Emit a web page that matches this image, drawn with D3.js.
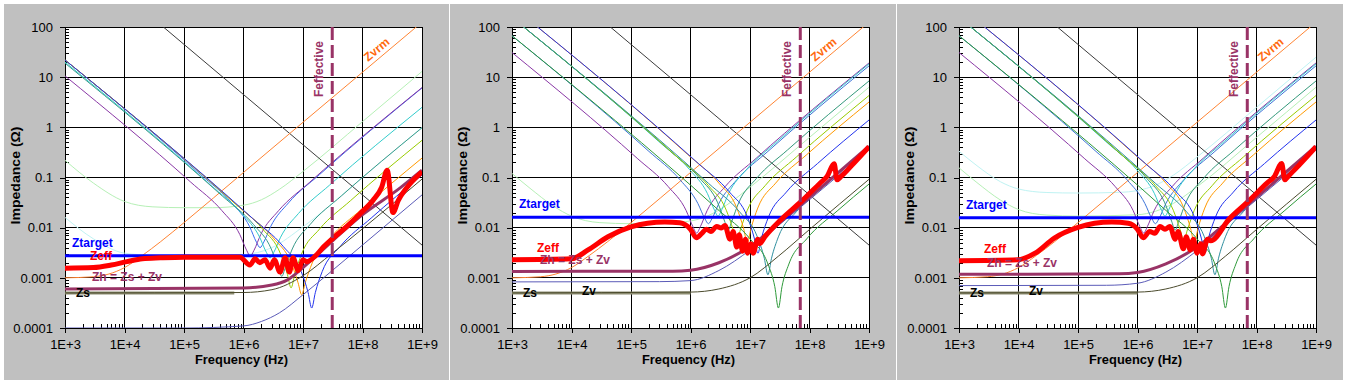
<!DOCTYPE html>
<html>
<head>
<meta charset="utf-8">
<title>Impedance vs frequency</title>
<script src="https://cdn.jsdelivr.net/npm/d3@7"></script>
<style>
  body { margin: 0; background: #ffffff; }
  text { font-family: Arial, "Liberation Sans", sans-serif; }
</style>
</head>
<body>
<svg id="chart" width="1347" height="384"></svg>
<script>
// axis ticks
var freqTicks = [1e3, 1e4, 1e5, 1e6, 1e7, 1e8, 1e9];
var freqLabels = ["1E+3", "1E+4", "1E+5", "1E+6", "1E+7", "1E+8", "1E+9"];
var zTicks = [100, 10, 1, 0.1, 0.01, 0.001, 0.0001];
var zLabels = ["100", "10", "1", "0.1", "0.01", "0.001", "0.0001"];

// per panel scalars
var zTarget = [0.00275, 0.0162, 0.0157];
var fEffective = [3.1e7, 7e7, 7e7];

// curves common to all three panels  [Hz, ohm]
var capLine = [[4.5e4, 100], [1e9, 0.0045]];
var zvrm = [[1e3, 0.001], [3e3, 0.00105], [1e4, 0.0016], [2e4, 0.0028], [4e4, 0.0052], [1e5, 0.0126], [1e6, 0.126], [1e7, 1.26], [1e9, 125]];

// panel 1
var p1LightGreen = [[1e3, 0.22], [3e3, 0.0775], [1e4, 0.0333], [3e4, 0.026], [1e5, 0.025], [3e5, 0.025], [1e6, 0.028], [2e6, 0.036], [4e6, 0.058], [1e7, 0.132], [1e8, 1.3], [1e9, 13]];
var p1PaleCyan = [[1e3, 0.016], [3e3, 0.006], [1e4, 0.0031], [3e4, 0.0028], [1e5, 0.0027], [1e6, 0.0029], [3e6, 0.004], [1e7, 0.0104], [1e8, 0.1], [1e9, 1.0]];
var p1Purple = [[1e3, 10.6], [1.3e5, 0.0807], [4.33e5, 0.0219], [8.67e5, 0.00731], [1.13e6, 0.00353], [1.3e6, 0.0027], [1.5e6, 0.00353], [1.95e6, 0.00731], [3.9e6, 0.0219], [1.3e7, 0.0807], [1e9, 6.2]];
var p1Blue = [[1e3, 22], [1.9e5, 0.1146], [6.33e5, 0.0312], [1.27e6, 0.01045], [1.65e6, 0.00515], [1.9e6, 0.004], [2.19e6, 0.00515], [2.85e6, 0.01045], [5.7e6, 0.0312], [1.9e7, 0.1146], [1e9, 6.1]];
var p1Cyan = [[1e3, 20], [2.8e5, 0.0707], [9.33e5, 0.0192], [1.87e6, 0.00645], [2.43e6, 0.0032], [2.8e6, 0.0025], [3.22e6, 0.0032], [4.2e6, 0.00645], [8.4e6, 0.0192], [2.8e7, 0.0707], [1e9, 2.5]];
var p1Teal = [[1e3, 19], [4.4e5, 0.0428], [1.47e6, 0.0116], [2.93e6, 0.00376], [3.83e6, 0.00162], [4.4e6, 0.00107], [5.06e6, 0.00162], [6.6e6, 0.00376], [1.32e7, 0.0116], [4.4e7, 0.0428], [1e9, 0.98]];
var p1YGreen = [[1e3, 22], [6.3e5, 0.0346], [2.1e6, 0.00933], [4.2e6, 0.00298], [5.48e6, 0.00116], [6.3e6, 0.00063], [7.25e6, 0.00116], [9.45e6, 0.00298], [1.89e7, 0.00933], [6.3e7, 0.0346], [1e9, 0.55]];
var p1Orange = [[1e3, 22], [9.5e5, 0.0229], [3.17e6, 0.0062], [6.33e6, 0.00198], [8.26e6, 0.0008], [9.5e6, 0.00046], [1.09e7, 0.0008], [1.43e7, 0.00198], [2.85e7, 0.0062], [9.5e7, 0.0229], [1e9, 0.244]];
var p1Blue2 = [[1e3, 22], [1.4e6, 0.01554], [4.67e6, 0.0042], [9.33e6, 0.00133], [1.22e7, 0.000506], [1.4e7, 0.00025], [1.61e7, 0.000506], [2.1e7, 0.00133], [4.2e7, 0.0042], [1.4e8, 0.01554], [1e9, 0.112]];
var p1Slate = [[1e3, 0.0001], [1e5, 0.0001], [1e6, 0.00011], [2e6, 0.000135], [4e6, 0.0002], [1e7, 0.00046], [3e7, 0.00135], [1e8, 0.0045], [1e9, 0.045]];
var p1ZsFlat = [[1e3, 0.0005], [7e5, 0.0005]];
var p1Zs = [[1e3, 0.0005], [1e6, 0.00051], [3e6, 0.00058], [1e7, 0.0011], [3e7, 0.003], [1e8, 0.0095], [1e9, 0.093]];
var p1Zh = [[1e3, 0.0006], [1e6, 0.00063], [3e6, 0.00072], [5.4e6, 0.0009], [1e7, 0.0016], [1.3e7, 0.0021], [3.2e7, 0.0056], [9e7, 0.0165], [4.3e8, 0.062], [1e9, 0.14]];
var p1Zeff = [[1e3, 0.00156], [3e3, 0.0016], [6e3, 0.0018], [1.1e4, 0.0021], [2e4, 0.0024], [4e4, 0.0025], [1e5, 0.00258], [8.7e5, 0.00258],
  [1.28e6, 0.0018], [1.57e6, 0.0024], [1.88e6, 0.002], [2.3e6, 0.0023], [2.8e6, 0.00156], [3.3e6, 0.0023], [4.1e6, 0.0013], [5e6, 0.0025],
  [5.9e6, 0.0013], [6.8e6, 0.0025], [8.3e6, 0.0014], [1e7, 0.0023], [1.15e7, 0.0021], [1.6e7, 0.0027], [2.2e7, 0.0041], [3.2e7, 0.0062],
  [5.4e7, 0.0105], [9.1e7, 0.019], [1.5e8, 0.035], [2.1e8, 0.064], [2.6e8, 0.14], [3.25e8, 0.02], [4e8, 0.035], [5.5e8, 0.062], [1e9, 0.13]];

// panels 2 and 3 (shared capacitor curves)
var pnPurple = [[1e3, 31], [1.27e5, 0.2416], [4.23e5, 0.0656], [8.47e5, 0.0218], [1.1e6, 0.0104], [1.27e6, 0.0078], [1.46e6, 0.0104], [1.9e6, 0.0218], [3.81e6, 0.0656], [1.27e7, 0.2416], [1e9, 19.2]];
var pnBlueGray = [[1e3, 67], [2e5, 0.3317], [6.67e5, 0.0901], [1.33e6, 0.0304], [1.74e6, 0.0152], [2e6, 0.012], [2.3e6, 0.0152], [3e6, 0.0304], [6e6, 0.0901], [2e7, 0.3317], [1e9, 16.8]];
var pnCyan = [[1e3, 155], [2.9e5, 0.5287], [9.67e5, 0.1435], [1.93e6, 0.0476], [2.52e6, 0.0226], [2.9e6, 0.017], [3.34e6, 0.0226], [4.35e6, 0.0476], [8.7e6, 0.1435], [2.9e7, 0.5287], [1e9, 18.4]];
var pnTealGreen = [[1e3, 155], [4.3e5, 0.3564], [1.43e6, 0.0964], [2.87e6, 0.0313], [3.74e6, 0.0135], [4.3e6, 0.009], [4.95e6, 0.0135], [6.45e6, 0.0313], [1.29e7, 0.0964], [4.3e7, 0.3564], [1e9, 8.4]];
var pnYGreen = [[1e3, 155], [6e5, 0.2554], [2e6, 0.069], [4e6, 0.0222], [5.22e6, 0.0091], [6e6, 0.0055], [6.9e6, 0.0091], [9e6, 0.0222], [1.8e7, 0.069], [6e7, 0.2554], [1e9, 4.3]];
var pnOrange = [[1e3, 260], [9e5, 0.2861], [3e6, 0.0773], [6e6, 0.0246], [7.83e6, 0.0095], [9e6, 0.005], [1.035e7, 0.0095], [1.35e7, 0.0246], [2.7e7, 0.0773], [9e7, 0.2861], [1e9, 3.2]];
var pnBlue = [[1e3, 260], [1.36e6, 0.1891], [4.53e6, 0.0511], [9.07e6, 0.0162], [1.18e7, 0.0062], [1.36e7, 0.0031], [1.56e7, 0.0062], [2.04e7, 0.0162], [4.08e7, 0.0511], [1.36e8, 0.1891], [1e9, 1.4]];
var pnTeal = [[1e3, 155], [2e6, 0.0767], [6.67e6, 0.0207], [1.33e7, 0.00656], [1.74e7, 0.00246], [2e7, 0.00115], [2.3e7, 0.00246], [3e7, 0.00656], [6e7, 0.0207], [2e8, 0.0767], [1e9, 0.39]];
var pnGreen = [[1e3, 67], [3e6, 0.0221], [1e7, 0.006], [2e7, 0.00188], [2.61e7, 0.00067], [3e7, 0.00025], [3.45e7, 0.00067], [4.5e7, 0.00188], [9e7, 0.006], [3e8, 0.0221], [1e9, 0.074]];
var pnZsFlat = [[1e3, 0.0005], [1e6, 0.0005]];
var pnZs = [[1e3, 0.0005], [1e6, 0.00052], [3e6, 0.0006], [1e7, 0.001], [3e7, 0.0027], [1e8, 0.0092], [1e9, 0.092]];

var p2LightGreen = [[1e3, 0.1206], [2e3, 0.0612], [5e3, 0.0268], [1e4, 0.017], [3e4, 0.0126], [1e5, 0.012], [3e5, 0.0122], [1e6, 0.0136], [2e6, 0.0174], [4e6, 0.0279], [1e7, 0.0641], [1e8, 0.63], [1e9, 6.3]];
var p2Slate = [[1e3, 0.00083], [3e5, 0.00084], [1e6, 0.00088], [3e6, 0.0014], [1e7, 0.0036], [3e7, 0.011], [1e8, 0.036], [1e9, 0.36]];
var p2Zh = [[1e3, 0.00134], [5e5, 0.00136], [1e6, 0.00142], [3e6, 0.002], [1e7, 0.0042], [3e7, 0.012], [1e8, 0.04], [1e9, 0.42]];
var p2Zeff = [[1e3, 0.0023], [1e4, 0.0024], [1.9e4, 0.0036], [4.1e4, 0.0066], [1e5, 0.0104], [1.9e5, 0.0123], [3.7e5, 0.013], [6.6e5, 0.0125],
  [1e6, 0.0093], [1.26e6, 0.0063], [1.55e6, 0.0077], [1.85e6, 0.0093], [2.2e6, 0.0084], [2.75e6, 0.0106], [3.3e6, 0.0098], [3.8e6, 0.011],
  [4.6e6, 0.0059], [5.2e6, 0.0084], [6e6, 0.0041], [6.6e6, 0.0072], [7.5e6, 0.0034], [8.4e6, 0.0059], [9.1e6, 0.0031], [1.03e7, 0.0048],
  [1.13e7, 0.0031], [1.35e7, 0.0059], [1.46e7, 0.0048], [1.78e7, 0.0066], [3.2e7, 0.0139], [7.2e7, 0.033], [1.5e8, 0.077], [1.97e8, 0.105],
  [2.6e8, 0.187], [2.9e8, 0.09], [3.4e8, 0.105], [5.5e8, 0.19], [1e9, 0.41]];

var p3PaleCyan = [[1e3, 0.334], [2e3, 0.172], [5e3, 0.082], [1e4, 0.059], [3e4, 0.0502], [1e5, 0.049], [5e5, 0.0506], [1e6, 0.055], [2e6, 0.07], [4e6, 0.111], [1e7, 0.255], [1e8, 2.5], [1e9, 25]];
var p3LightGreen = [[1e3, 0.156], [2e3, 0.0793], [5e3, 0.0354], [1e4, 0.023], [3e4, 0.0178], [1e5, 0.017], [1e6, 0.0181], [2e6, 0.0212], [4e6, 0.0304], [1e7, 0.0653], [1e8, 0.63], [1e9, 6.3]];
var p3Slate = [[1e3, 0.0007], [3e5, 0.00071], [1e6, 0.00078], [3e6, 0.0013], [1e7, 0.0035], [3e7, 0.011], [1e8, 0.036], [1e9, 0.36]];
var p3Zh = [[1e3, 0.00118], [5e5, 0.0012], [1e6, 0.00128], [3e6, 0.0019], [1e7, 0.0041], [3e7, 0.012], [1e8, 0.04], [1e9, 0.42]];
var p3Zeff = [[1e3, 0.0022], [1e4, 0.0023], [1.9e4, 0.0031], [4e4, 0.0062], [1e5, 0.0101], [1.9e5, 0.0122], [3.7e5, 0.013], [7e5, 0.0122],
  [1e6, 0.0093], [1.25e6, 0.0063], [1.6e6, 0.0084], [1.95e6, 0.0077], [2.4e6, 0.0106], [2.9e6, 0.0093], [3.5e6, 0.0106], [4.3e6, 0.0059],
  [4.8e6, 0.0084], [5.9e6, 0.0038], [6.6e6, 0.0066], [7.7e6, 0.0036], [8.7e6, 0.0059], [1e7, 0.0031], [1.15e7, 0.0048], [1.24e7, 0.003],
  [1.5e7, 0.0059], [1.7e7, 0.0055], [3.5e7, 0.015], [7.2e7, 0.033], [1.5e8, 0.077], [2e8, 0.105], [2.65e8, 0.19], [3e8, 0.09],
  [3.4e8, 0.105], [5.5e8, 0.19], [1e9, 0.41]];

// line styles
var styles = {
  lightgreen: ['#b6f0b6', 1], palecyan: ['#bff3f3', 1], cap: ['#3c3c3c', 1], zvrm: ['#ff8433', 1],
  purple: ['#8a38a6', 1], blue: ['#3a6cf0', 1], cyan: ['#33cccc', 1], teal: ['#3a9a8a', 1],
  ygreen: ['#99cc00', 1], orange: ['#ff9900', 1], blue2: ['#2233ee', 1], slate: ['#5b5bb8', 1],
  bluegray: ['#3d74d8', 1], tealgreen: ['#33997a', 1], teal2: ['#2f8f9f', 1], green: ['#2e9a3a', 1],
  zsflat: ['#8c8c70', 3], zs: ['#4b4b2d', 1], zh: ['#993366', 3], zeff: ['#ff0000', 5]
};

var panels = [
  { plotLeft: 65, bgX: 4, bgW: 445, zv: false,
    series: [['lightgreen', p1LightGreen], ['palecyan', p1PaleCyan], ['cap', capLine], ['zvrm', zvrm],
      ['blue', p1Blue], ['purple', p1Purple], ['cyan', p1Cyan], ['teal', p1Teal], ['ygreen', p1YGreen],
      ['orange', p1Orange], ['blue2', p1Blue2], ['slate', p1Slate], ['zsflat', p1ZsFlat], ['zs', p1Zs], ['zh', p1Zh]],
    zeff: p1Zeff },
  { plotLeft: 512, bgX: 450, bgW: 446, zv: true,
    series: [['lightgreen', p2LightGreen], ['cap', capLine], ['zvrm', zvrm],
      ['bluegray', pnBlueGray], ['purple', pnPurple], ['cyan', pnCyan], ['tealgreen', pnTealGreen], ['ygreen', pnYGreen],
      ['orange', pnOrange], ['blue2', pnBlue], ['teal2', pnTeal], ['green', pnGreen], ['slate', p2Slate],
      ['zsflat', pnZsFlat], ['zs', pnZs], ['zh', p2Zh]],
    zeff: p2Zeff },
  { plotLeft: 959, bgX: 897, bgW: 446, zv: true,
    series: [['palecyan', p3PaleCyan], ['lightgreen', p3LightGreen], ['cap', capLine], ['zvrm', zvrm],
      ['bluegray', pnBlueGray], ['purple', pnPurple], ['cyan', pnCyan], ['tealgreen', pnTealGreen], ['ygreen', pnYGreen],
      ['orange', pnOrange], ['blue2', pnBlue], ['teal2', pnTeal], ['green', pnGreen], ['slate', p3Slate],
      ['zsflat', pnZsFlat], ['zs', pnZs], ['zh', p3Zh]],
    zeff: p3Zeff }
];

var W = 357, H = 301, TOP = 27;
var svg = d3.select('#chart');

var minorVals = [];
freqTicks.slice(0, -1).forEach(function (d) { for (var m = 2; m < 10; m++) minorVals.push(d * m); });
var minorZ = [];
zTicks.slice(1).forEach(function (d) { for (var m = 2; m < 10; m++) minorZ.push(d * m); });

panels.forEach(function (p, i) {
  svg.append('rect').attr('x', p.bgX).attr('y', 4).attr('width', p.bgW).attr('height', 376).attr('fill', '#c0c0c0');

  var x = d3.scaleLog().domain([1e3, 1e9]).range([0, W]);
  var y = d3.scaleLog().domain([1e-4, 100]).range([H, 0]);
  var g = svg.append('g').attr('transform', 'translate(' + p.plotLeft + ',' + TOP + ')');

  g.append('rect').attr('width', W).attr('height', H).attr('fill', '#fff');

  // gridlines
  g.append('g').selectAll('line').data(freqTicks).join('line')
    .attr('x1', function (d) { return x(d); }).attr('x2', function (d) { return x(d); })
    .attr('y1', 0).attr('y2', H).attr('stroke', '#000').attr('shape-rendering', 'crispEdges');
  g.append('g').selectAll('line').data(zTicks).join('line')
    .attr('y1', function (d) { return y(d); }).attr('y2', function (d) { return y(d); })
    .attr('x1', 0).attr('x2', W).attr('stroke', '#000').attr('shape-rendering', 'crispEdges');

  // minor ticks inside
  g.append('g').attr('transform', 'translate(0,' + H + ')')
    .call(d3.axisTop(x).tickValues(minorVals).tickSize(4).tickFormat('').tickSizeOuter(0))
    .call(function (a) { a.select('.domain').remove(); a.selectAll('line').attr('stroke', '#000').attr('shape-rendering', 'crispEdges'); });
  g.append('g')
    .call(d3.axisRight(y).tickValues(minorZ).tickSize(4).tickFormat('').tickSizeOuter(0))
    .call(function (a) { a.select('.domain').remove(); a.selectAll('line').attr('stroke', '#000').attr('shape-rendering', 'crispEdges'); });

  // major axes
  g.append('g').attr('transform', 'translate(0,' + H + ')')
    .call(d3.axisBottom(x).tickValues(freqTicks).tickSize(5).tickSizeOuter(0).tickPadding(7)
      .tickFormat(function (d, k) { return freqLabels[k]; }))
    .call(function (a) {
      a.select('.domain').attr('stroke', '#000');
      a.selectAll('line').attr('stroke', '#000').attr('shape-rendering', 'crispEdges');
      a.selectAll('text').attr('font-size', 13).attr('fill', '#000').attr('font-family', 'Arial, Liberation Sans');
    });
  g.append('g')
    .call(d3.axisLeft(y).tickValues(zTicks).tickSize(5).tickSizeOuter(0).tickPadding(7)
      .tickFormat(function (d, k) { return zLabels[k]; }))
    .call(function (a) {
      a.select('.domain').attr('stroke', '#000');
      a.selectAll('line').attr('stroke', '#000').attr('shape-rendering', 'crispEdges');
      a.selectAll('text').attr('font-size', 13).attr('fill', '#000').attr('font-family', 'Arial, Liberation Sans');
    });

  // curves
  var clipId = 'clip' + i;
  g.append('clipPath').attr('id', clipId).append('rect').attr('width', W).attr('height', H);
  var cg = g.append('g').attr('clip-path', 'url(#' + clipId + ')');
  var line = d3.line().x(function (d) { return x(d[0]); }).y(function (d) { return y(d[1]); }).curve(d3.curveMonotoneX);

  p.series.forEach(function (s) {
    var st = styles[s[0]];
    cg.append('path').datum(s[1]).attr('d', line).attr('fill', 'none')
      .attr('stroke', st[0]).attr('stroke-width', st[1]).attr('stroke-linejoin', 'round');
  });

  // target
  cg.append('path').datum([[1e3, zTarget[i]], [1e9, zTarget[i]]]).attr('d', line)
    .attr('fill', 'none').attr('stroke', '#0000ff').attr('stroke-width', 3);

  // Zeff
  cg.append('path').datum(p.zeff).attr('d', line).attr('fill', 'none')
    .attr('stroke', styles.zeff[0]).attr('stroke-width', styles.zeff[1]).attr('stroke-linejoin', 'round');

  // Feffective
  var fx = x(fEffective[i]);
  cg.append('line').attr('x1', fx).attr('x2', fx).attr('y1', 0).attr('y2', H)
    .attr('stroke', '#993366').attr('stroke-width', 3).attr('stroke-dasharray', '13,5');

  // labels
  var lab = function (txt, lx, ly, col) {
    return g.append('text').attr('x', lx).attr('y', ly).attr('fill', col)
      .attr('font-size', 12).attr('font-weight', 'bold').text(txt);
  };
  lab('Ztarget', 7, y(zTarget[i]) - 9, '#0000ff');
  lab('Zeff', 25, y(p.zeff[0][1]) - 8, '#ff0000');
  var zh = p.series.filter(function (s) { return s[0] === 'zh'; })[0][1];
  lab('Zh = Zs + Zv', i ? 28 : 27, y(zh[0][1]) - 7.5, '#993366');
  lab('Zs', 11, y(0.0005) + 4, '#000');
  if (p.zv) lab('Zv', 70, y(0.0005) + 2, '#000');

  g.append('text').attr('transform', 'translate(' + (fx - 9) + ',70) rotate(-90)')
    .attr('text-anchor', 'start').attr('fill', '#993366').attr('font-size', 12).attr('font-weight', 'bold')
    .text('Feffective');
  g.append('text').attr('transform', 'translate(303,35) rotate(-40)')
    .attr('fill', '#ff6a10').attr('font-size', 12).attr('font-weight', 'bold').text('Zvrm');

  // axis titles
  g.append('text').attr('x', W / 2 - 2).attr('y', 337).attr('text-anchor', 'middle')
    .attr('font-size', 12).attr('font-weight', 'bold').attr('fill', '#000')
    .attr('textLength', 93).attr('lengthAdjust', 'spacingAndGlyphs').text('Frequency (Hz)');
  g.append('text').attr('transform', 'translate(-45,' + (H / 2 - 2) + ') rotate(-90)')
    .attr('text-anchor', 'middle').attr('font-size', 13).attr('font-weight', 'bold').attr('fill', '#000')
    .attr('textLength', 98).attr('lengthAdjust', 'spacingAndGlyphs').text('Impedance (\u03a9)');
});
</script>
</body>
</html>
